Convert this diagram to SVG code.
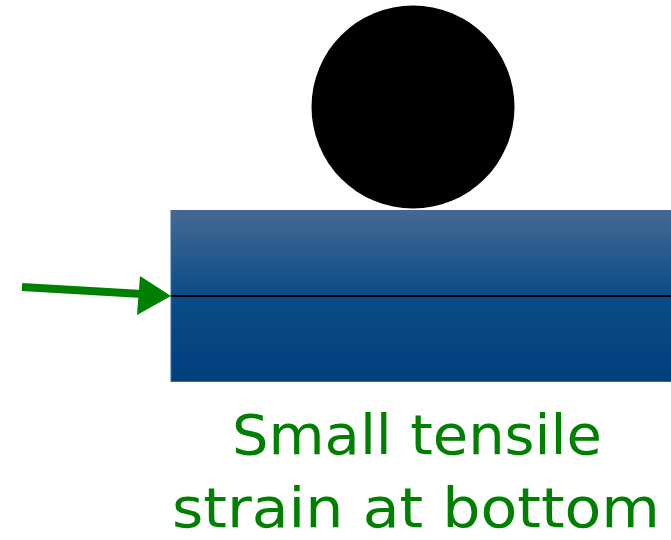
<svg xmlns="http://www.w3.org/2000/svg" width="671" height="540" viewBox="0 0 671 540">
<style>
.lbl{font-family:"DejaVu Sans","Liberation Sans",sans-serif;font-size:56px;fill:#008000;text-anchor:middle}
</style>
<defs>
<linearGradient id="g" x1="0" y1="0" x2="0" y2="1">
<stop offset="0" stop-color="#466892"/>
<stop offset="0.5" stop-color="#0a4c88"/>
<stop offset="1" stop-color="#003f7d"/>
</linearGradient>
</defs>
<g id="beam">
<rect x="171" y="210.5" width="505" height="171" fill="url(#g)" stroke="#3d6a9c" stroke-width="1"/>
<line x1="171" y1="296" x2="671" y2="296" stroke="#000" stroke-width="2"/>
</g>
<g id="ball">
<circle cx="413" cy="107" r="101.5" fill="#000"/>
</g>
<g id="connectors">
<line x1="22" y1="287" x2="142" y2="294" stroke="#008000" stroke-width="8"/>
<polygon points="171,296 140,276 137,315" fill="#008000"/>
</g>
<g id="caption">
<text class="lbl" x="417" y="454" textLength="370" lengthAdjust="spacingAndGlyphs">Small tensile</text>
<text class="lbl" x="416" y="527" textLength="488" lengthAdjust="spacingAndGlyphs">strain at bottom</text>
</g>
</svg>
